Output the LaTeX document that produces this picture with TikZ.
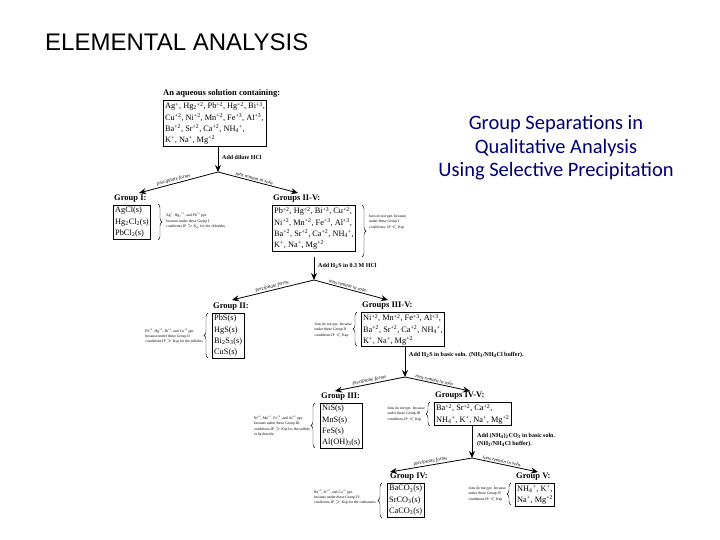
\documentclass[tikz,border=0pt]{standalone}
\usepackage{fontspec}
\setmainfont{Liberation Serif}
\newfontfamily\arialf{Liberation Sans}
\newfontfamily\calib{Carlito}
\usetikzlibrary{arrows.meta,decorations.pathreplacing}
\newcommand\myup[1]{\textsuperscript{#1}}
\newcommand\mydn[1]{\textsubscript{#1}}
\begin{document}
\begin{tikzpicture}[x=1pt,y=-1pt,
  box/.style={draw,thick,anchor=north west,align=left,inner sep=1.8pt,font=\fontsize{8.3}{11.2}\selectfont},
  ttl/.style={anchor=south west,inner sep=0pt,font=\fontsize{8.5}{10}\selectfont\bfseries},
  note/.style={align=left,inner sep=0pt,font=\fontsize{3.8}{5.2}\selectfont},
  stepl/.style={anchor=west,inner sep=0pt,align=left,font=\fontsize{6}{8}\selectfont\bfseries},
  arr/.style={thick,-{Stealth[length=7pt,width=6pt]}},
  lbl/.style={sloped,above,inner sep=1pt,font=\fontsize{5}{6}\selectfont\itshape},
  br/.style={decorate,decoration={brace,amplitude=4pt},thin}]
\useasboundingbox (0,0) rectangle (720,540);
\node[anchor=west,inner sep=0pt,font=\arialf\fontsize{24}{28}\selectfont] (title) at (45,42) {ELEMENTAL ANALYSIS};
\node[align=center,inner sep=0pt,text=blue!45!black,font=\calib\fontsize{20.5}{23.5}\selectfont] (sub) at (556,148) {Group Separations in\\Qualitative Analysis\\Using Selective Precipitation};

% top
\node[ttl] (t0) at (163,98) {An aqueous solution containing:};
\node[box] (b0) at (163,100) {Ag\myup{+}, Hg\mydn{2}\myup{+2}, Pb\myup{+2}, Hg\myup{+2}, Bi\myup{+3},\\Cu\myup{+2}, Ni\myup{+2}, Mn\myup{+2}, Fe\myup{+3}, Al\myup{+3},\\Ba\myup{+2}, Sr\myup{+2}, Ca\myup{+2}, NH\mydn{4}\myup{+},\\K\myup{+}, Na\myup{+}, Mg\myup{+2}};
\coordinate (j0) at (218,172);
\draw[arr] (218,147) -- (j0);
\node[stepl] (s0) at (222,157) {Add dilute HCl};
\coordinate (e1) at (139,193);
\coordinate (e2) at (298,193);
\draw[arr] (j0) -- node[lbl,pos=0.55]{precipitate forms} (e1);
\draw[arr] (j0) -- node[lbl,pos=0.45]{ions remain in soln.} (e2);

% Group I
\node[ttl] (t1) at (114,203) {Group I:};
\node[box] (b1) at (113,205) {AgCl(s)\\Hg\mydn{2}Cl\mydn{2}(s)\\PbCl\mydn{2}(s)};
\draw[br] (158,204) -- (158,240);
\node[note,anchor=west] (n1) at (166,221) {Ag\myup{+}, Hg\mydn{2}\myup{+2}, and Pb\myup{+2} ppt.\\because under these Group I\\conditions IP $>$ K\mydn{sp} for the chlorides};

% Groups II-V
\node[ttl] (t2) at (273,203) {Groups II-V:};
\node[box] (b2) at (272,205) {Pb\myup{+2}, Hg\myup{+2}, Bi\myup{+3}, Cu\myup{+2},\\Ni\myup{+2}, Mn\myup{+2}, Fe\myup{+3}, Al\myup{+3},\\Ba\myup{+2}, Sr\myup{+2}, Ca\myup{+2}, NH\mydn{4}\myup{+},\\K\myup{+}, Na\myup{+}, Mg\myup{+2}};
\draw[br] (362,205) -- (362,257);
\node[note,anchor=west] (n2) at (369,222) {Ions do not ppt. because\\under these Group I\\conditions: IP $<$ Ksp};

\coordinate (j1) at (314,280);
\draw[arr] (314,257) -- (j1);
\node[stepl] (s1) at (318,266) {Add H\mydn{2}S in 0.3 M HCl};
\coordinate (e3) at (232,300);
\coordinate (e4) at (388,300);
\draw[arr] (j1) -- node[lbl,pos=0.5]{precipitate forms} (e3);
\draw[arr] (j1) -- node[lbl,pos=0.45]{ions remain in soln.} (e4);

% Group II
\node[ttl] (t3) at (213,311) {Group II:};
\node[box] (b3) at (212,313) {PbS(s)\\HgS(s)\\Bi\mydn{2}S\mydn{3}(s)\\CuS(s)};
\draw[br] (208,358) -- (208,313);
\node[note,anchor=east] (n3) at (203,336) {Pb\myup{+2}, Hg\myup{+2}, Bi\myup{+3}, and Cu\myup{+2} ppt.\\because under these Group II\\conditions IP $>$ Ksp for the sulfides};

% Groups III-V
\node[ttl] (t4) at (362,310) {Groups III-V:};
\node[box] (b4) at (361,312) {Ni\myup{+2}, Mn\myup{+2}, Fe\myup{+3}, Al\myup{+3},\\Ba\myup{+2}, Sr\myup{+2}, Ca\myup{+2}, NH\mydn{4}\myup{+},\\K\myup{+}, Na\myup{+}, Mg\myup{+2}};
\draw[br] (357,346) -- (357,312);
\node[note,anchor=east] (n4) at (352,330) {Ions do not ppt. because\\under these Group II\\conditions IP $<$ Ksp.};

\coordinate (j2) at (405,377);
\draw[arr] (405,346) -- (j2);
\node[stepl] (s2) at (409,355) {Add H\mydn{2}S in basic soln. (NH\mydn{3}/NH\mydn{4}Cl buffer).};
\coordinate (e5) at (335,391);
\coordinate (e6) at (470,391);
\draw[arr] (j2) -- node[lbl,pos=0.5]{precipitate forms} (e5);
\draw[arr] (j2) -- node[lbl,pos=0.45]{ions remain in soln.} (e6);

% Group III
\node[ttl] (t5) at (321,401) {Group III:};
\node[box] (b5) at (320,403) {NiS(s)\\MnS(s)\\FeS(s)\\Al(OH)\mydn{3}(s)};
\draw[br] (315,448) -- (315,403);
\node[note,anchor=east] (n5) at (310,426) {Ni\myup{+2}, Mn\myup{+2}, Fe\myup{+3}, and Al\myup{+3} ppt.\\because under these Group III\\conditions IP $>$ Ksp for the sulfide\\or hydroxide.};

% Groups IV-V
\node[ttl] (t6) at (435,400) {Groups IV-V:};
\node[box] (b6) at (434,402) {Ba\myup{+2}, Sr\myup{+2}, Ca\myup{+2},\\NH\mydn{4}\myup{+}, K\myup{+}, Na\myup{+}, Mg\myup{+2}};
\draw[br] (430,426) -- (430,402);
\node[note,anchor=east] (n6) at (425,414) {Ions do not ppt. because\\under these Group III\\conditions IP $<$ Ksp};

\coordinate (j3) at (472,458);
\draw[arr] (472,426) -- (j3);
\node[stepl] (s3) at (477,440) {Add (NH\mydn{4})\mydn{2}CO\mydn{3} in basic soln.\\(NH\mydn{3}/NH\mydn{4}Cl buffer).};
\coordinate (e7) at (390,472);
\coordinate (e8) at (538,472);
\draw[arr] (j3) -- node[lbl,pos=0.5]{precipitate forms} (e7);
\draw[arr] (j3) -- node[lbl,pos=0.45]{ions remain in soln.} (e8);

% Group IV
\node[ttl] (t7) at (390,481) {Group IV:};
\node[box] (b7) at (387,483) {BaCO\mydn{3}(s)\\SrCO\mydn{3}(s)\\CaCO\mydn{3}(s)};
\draw[br] (382,518) -- (382,483);
\node[note,anchor=east] (n7) at (377,497) {Ba\myup{+2}, Sr\myup{+2}, and Ca\myup{+2} ppt.\\because under these Group IV\\conditions IP $>$ Ksp for the carbonates.};

% Group V
\node[ttl] (t8) at (516,481) {Group V:};
\node[box] (b8) at (515,483) {NH\mydn{4}\myup{+}, K\myup{+},\\Na\myup{+}, Mg\myup{+2}};
\draw[br] (511,505) -- (511,483);
\node[note,anchor=east] (n8) at (506,494) {Ions do not ppt. because\\under these Group IV\\conditions IP $<$ Ksp};
\end{tikzpicture}
\end{document}
